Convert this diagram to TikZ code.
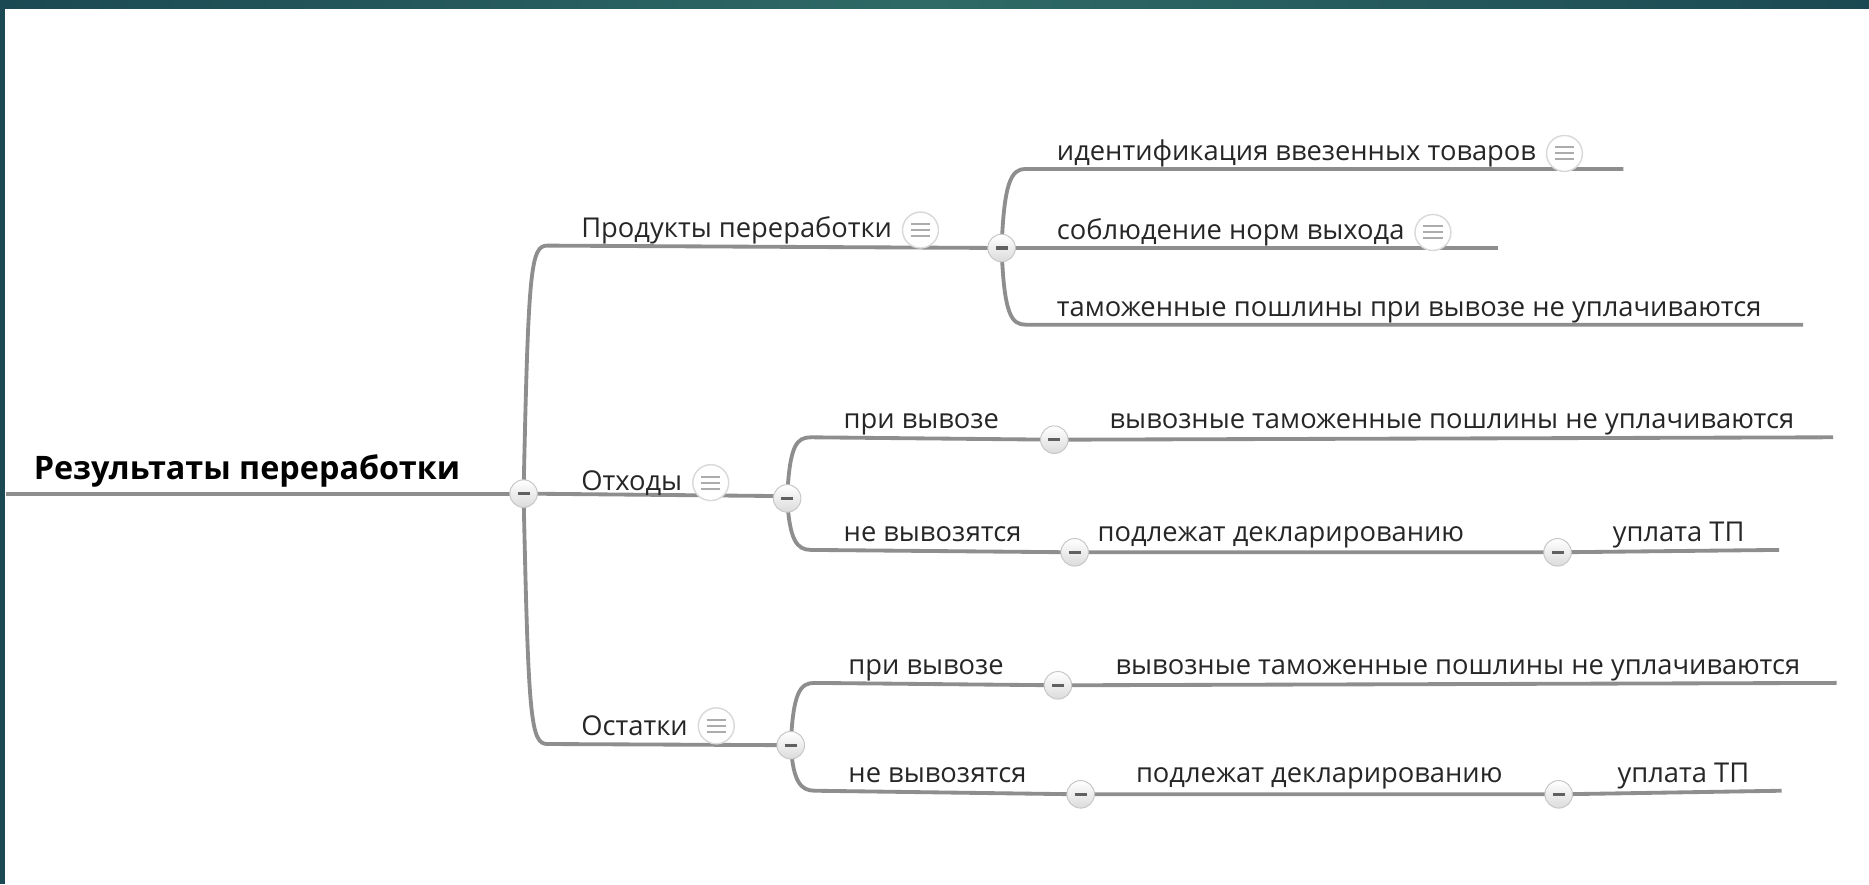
\documentclass[tikz,border=0pt]{standalone}
\usepackage{fontspec}
\setmainfont{Open Sans}
\usetikzlibrary{positioning}
\definecolor{frame}{HTML}{1B4953}
\definecolor{framelight}{HTML}{2F6A66}
\definecolor{branch}{HTML}{8E8E8E}
\definecolor{ink}{HTML}{262626}
\tikzset{
  link/.style={draw=branch,line width=3.2pt},
  fold/.style={circle,minimum size=23pt,inner sep=0pt,draw=gray!45,line width=0.8pt,
    top color=white,bottom color=gray!28,
    path picture={\draw[line width=2.6pt,gray!75!black]
      ([xshift=-5pt]path picture bounding box.center) -- ([xshift=5pt]path picture bounding box.center);}},
  note/.style={circle,minimum size=30pt,inner sep=0pt,draw=gray!30,line width=1.2pt,fill=white,
    path picture={\foreach \d in {-5,0,5}
      \draw[line width=1.6pt,gray!65] ([xshift=-8pt,yshift=\d pt]path picture bounding box.center)
        -- ([xshift=8pt,yshift=\d pt]path picture bounding box.center);}},
  topic/.style={anchor=base west,inner sep=0pt,text=ink,font=\fontsize{22.8}{27}\selectfont},
  head/.style={anchor=base west,inner sep=0pt,text=black,font=\fontsize{27}{31}\selectfont\bfseries},
}
\begin{document}
\begin{tikzpicture}[x=1pt,y=-1pt]
\useasboundingbox (0,0) rectangle (1560,738);
\fill[frame] (0,0) rectangle (4.5,738);
\shade[left color=frame,right color=frame,middle color=framelight] (0,0) rectangle (1560,7.5);

% centres of the fold buttons
\coordinate (k0) at (437,412);
\coordinate (k1) at (836,207);
\coordinate (k2) at (657,416);
\coordinate (k3) at (660,622);
\coordinate (k21) at (880,367);
\coordinate (k22) at (897,461);
\coordinate (k23) at (1300,461);
\coordinate (k31) at (883,572);
\coordinate (k32) at (902,663);
\coordinate (k33) at (1301,663);

% branches
\draw[link] (5,412) -- (k0);
\draw[link] (k0) .. controls +(4,-190) and +(-14,0) .. (457,205) -- (k1);
\draw[link] (k0) -- (645,414) -- (k2);
\draw[link] (k0) .. controls +(4,190) and +(-14,0) .. (457,621) -- (k3);

\draw[link] (k1) .. controls +(2,-55) and +(-12,0) .. (856,141) -- (1355,141);
\draw[link] (k1) -- (1250,207);
\draw[link] (k1) .. controls +(2,55) and +(-12,0) .. (856,271) -- (1505,271);

\draw[link] (k2) .. controls +(2,-45) and +(-12,0) .. (677,365) -- (k21) -- (1530,365);
\draw[link] (k2) .. controls +(2,35) and +(-12,0) .. (677,459) -- (k22) -- (k23) -- (1485,459);

\draw[link] (k3) .. controls +(2,-45) and +(-12,0) .. (680,570) -- (k31) -- (1533,570);
\draw[link] (k3) .. controls +(2,30) and +(-12,0) .. (680,660) -- (k32) -- (k33) -- (1487,660);

% fold buttons
\foreach \k in {k0,k1,k2,k3,k21,k22,k23,k31,k32,k33}
  \node[fold] at (\k) {};

% texts
\node[head] (root) at (28,400) {Результаты переработки};

\node[topic] (prod) at (485,198) {Продукты переработки};
\node[note,right=8pt of prod] (prodn) {};
\node[topic] (otx) at (485,409) {Отходы};
\node[note,right=8pt of otx] (otxn) {};
\node[topic] (ost) at (485,614) {Остатки};
\node[note,right=8pt of ost] (ostn) {};

\node[topic] (ident) at (882,134) {идентификация ввезенных товаров};
\node[note,right=8pt of ident] (identn) {};
\node[topic] (norm) at (882,200) {соблюдение норм выхода};
\node[note,right=8pt of norm] (normn) {};
\node[topic] (duty) at (882,264) {таможенные пошлины при вывозе не уплачиваются};

\node[topic] (otxout) at (704,358) {при вывозе};
\node[topic] (otxfree) at (926,358) {вывозные таможенные пошлины не уплачиваются};
\node[topic] (otxstay) at (704,452) {не вывозятся};
\node[topic] (otxdecl) at (916,452) {подлежат декларированию};
\node[topic] (otxpay) at (1346,452) {уплата ТП};

\node[topic] (ostout) at (708,563) {при вывозе};
\node[topic] (ostfree) at (931,563) {вывозные таможенные пошлины не уплачиваются};
\node[topic] (oststay) at (708,653) {не вывозятся};
\node[topic] (ostdecl) at (948,653) {подлежат декларированию};
\node[topic] (ostpay) at (1350,653) {уплата ТП};
\end{tikzpicture}
\end{document}
